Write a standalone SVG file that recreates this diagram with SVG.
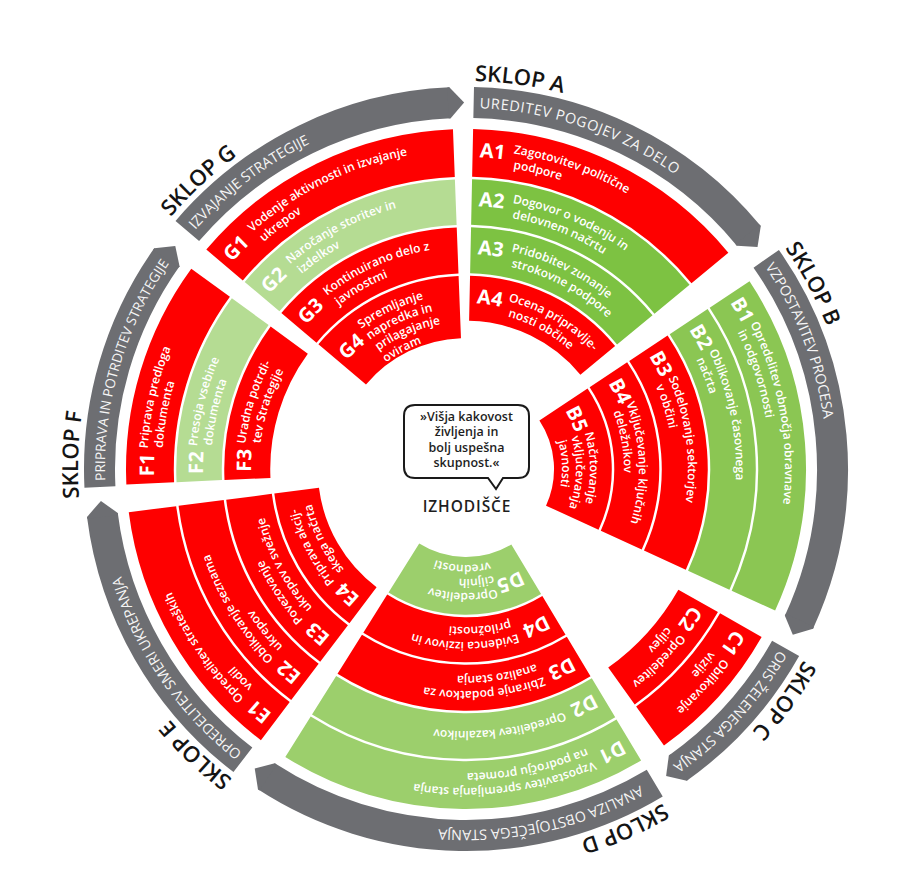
<svg xmlns="http://www.w3.org/2000/svg" width="917" height="884" viewBox="0 0 917 884">
<style>
.lb{font-family:'Open Sans','Liberation Sans',sans-serif;font-weight:700;font-size:20px;fill:#fff}
.tx{font-family:'Open Sans','Liberation Sans',sans-serif;font-weight:600;font-size:12px;fill:#fff}
.bt{font-family:'Open Sans','Liberation Sans',sans-serif;font-weight:400;font-size:14.3px;fill:#f5f5f5}
.sk{font-family:'Open Sans','Liberation Sans',sans-serif;font-weight:600;font-size:22px;fill:#141414}
.ct{font-family:'Open Sans','Liberation Sans',sans-serif;font-weight:600;font-size:12.5px;fill:#1e1e1e;text-anchor:middle}
.band{fill:none;stroke:#6d6e72;stroke-width:31}
.tip{fill:#6d6e72}
.r1{fill:none;stroke-width:47.8}
.r2{fill:none;stroke-width:45.5}
.r3{fill:none;stroke-width:46}
.r4{fill:none;stroke-width:45}
.r5{fill:none;stroke-width:57.75}
.rg{fill:none;stroke-width:62.3}
.red{stroke:#fe0000}
.ga{stroke:#7dc242}
.gb{stroke:#8bc653}
.gd{stroke:#9ccf6c}
.gl{stroke:#b5dc93}
</style>
<defs>
<path id="p319" d="M466,150a319,319 0 1 1 0,638a319,319 0 1 1 0,-638"/>
<path id="p304" d="M466,165a304,304 0 1 1 0,608a304,304 0 1 1 0,-608"/>
<path id="p312" d="M466,157a312,312 0 1 1 0,624a312,312 0 1 1 0,-624"/>
<path id="p270" d="M466,199a270,270 0 1 1 0,540a270,270 0 1 1 0,-540"/>
<path id="p255" d="M466,214a255,255 0 1 1 0,510a255,255 0 1 1 0,-510"/>
<path id="p263" d="M466,206a263,263 0 1 1 0,526a263,263 0 1 1 0,-526"/>
<path id="p222" d="M466,247a222,222 0 1 1 0,444a222,222 0 1 1 0,-444"/>
<path id="p207" d="M466,262a207,207 0 1 1 0,414a207,207 0 1 1 0,-414"/>
<path id="p215" d="M466,254a215,215 0 1 1 0,430a215,215 0 1 1 0,-430"/>
<path id="p173" d="M466,296a173,173 0 1 1 0,346a173,173 0 1 1 0,-346"/>
<path id="p158" d="M466,311a158,158 0 1 1 0,316a158,158 0 1 1 0,-316"/>
<path id="p166" d="M466,303a166,166 0 1 1 0,332a166,166 0 1 1 0,-332"/>
<path id="p124" d="M466,345a124,124 0 1 1 0,248a124,124 0 1 1 0,-248"/>
<path id="p110" d="M466,359a110,110 0 1 1 0,220a110,110 0 1 1 0,-220"/>
<path id="p96" d="M466,373a96,96 0 1 1 0,192a96,96 0 1 1 0,-192"/>
<path id="p115" d="M466,354a115,115 0 1 1 0,230a115,115 0 1 1 0,-230"/>
<path id="p175" d="M466,294a175,175 0 1 1 0,350a175,175 0 1 1 0,-350"/>
<path id="p161" d="M466,308a161,161 0 1 1 0,322a161,161 0 1 1 0,-322"/>
<path id="p147" d="M466,322a147,147 0 1 1 0,294a147,147 0 1 1 0,-294"/>
<path id="p133" d="M466,336a133,133 0 1 1 0,266a133,133 0 1 1 0,-266"/>
<path id="p157" d="M466,312a157,157 0 1 1 0,314a157,157 0 1 1 0,-314"/>
<path id="p262" d="M466,207a262,262 0 1 1 0,524a262,262 0 1 1 0,-524"/>
<path id="p258" d="M466,211a258,258 0 1 1 0,516a258,258 0 1 1 0,-516"/>
<path id="p361" d="M466,108a361,361 0 1 1 0,722a361,361 0 1 1 0,-722"/>
<path id="p388" d="M466,81a388,388 0 1 1 0,776a388,388 0 1 1 0,-776"/>
</defs>
<rect width="917" height="884" fill="#fff"/>

<g id="connectors">
 <g id="band-A">
  <circle cx="466" cy="469" r="366.5" pathLength="360" class="band" transform="rotate(-88.8 466 469)" stroke-dasharray="49.3 400"/>
  <polygon class="tip" points="464,118 466,118 480.1,102.8 466,87 464,87" transform="rotate(50.5 466 469)"/>
  <text class="bt" transform="rotate(1.2 466 469)" style="font-size:14.5px;letter-spacing:0.6px"><textPath href="#p361" startOffset="6">UREDITEV POGOJEV ZA DELO</textPath></text>
  <text class="sk" transform="rotate(1.3 466 469)"><textPath href="#p388">SKLOP A</textPath></text>
 </g>
 <g id="band-B">
  <circle cx="466" cy="469" r="366.5" pathLength="360" class="band" transform="rotate(-35 466 469)" stroke-dasharray="59.7 400"/>
  <polygon class="tip" points="464,118 466,118 480.1,102.8 466,87 464,87" transform="rotate(114.7 466 469)"/>
  <text class="bt" transform="rotate(55 466 469)"><textPath href="#p361" startOffset="6">VZPOSTAVITEV PROCESA</textPath></text>
  <text class="sk" transform="rotate(55.3 466 469)"><textPath href="#p388">SKLOP B</textPath></text>
 </g>
 <g id="band-C">
  <circle cx="466" cy="469" r="366.5" pathLength="360" class="band" transform="rotate(29.3 466 469)" stroke-dasharray="25.4 400"/>
  <polygon class="tip" points="464,118 466,118 480.1,102.8 466,87 464,87" transform="rotate(144.7 466 469)"/>
  <text class="bt" transform="rotate(119.3 466 469)"><textPath href="#p361" startOffset="5">ORIS ŽELENEGA STANJA</textPath></text>
  <text class="sk" transform="rotate(119.5 466 469)"><textPath href="#p388">SKLOP C</textPath></text>
 </g>
 <g id="band-D">
  <circle cx="466" cy="469" r="366.5" pathLength="360" class="band" transform="rotate(59 466 469)" stroke-dasharray="64 400"/>
  <polygon class="tip" points="464,118 466,118 480.1,102.8 466,87 464,87" transform="rotate(213 466 469)"/>
  <text class="bt" transform="rotate(149 466 469)"><textPath href="#p361" startOffset="14">ANALIZA OBSTOJEČEGA STANJA</textPath></text>
  <text class="sk" transform="rotate(149.5 466 469)"><textPath href="#p388">SKLOP D</textPath></text>
 </g>
 <g id="band-E">
  <circle cx="466" cy="469" r="366.5" pathLength="360" class="band" transform="rotate(127.5 466 469)" stroke-dasharray="45.3 400"/>
  <polygon class="tip" points="464,118 466,118 480.1,102.8 466,87 464,87" transform="rotate(262.8 466 469)"/>
  <text class="bt" transform="rotate(217.5 466 469)"><textPath href="#p361" startOffset="5">OPREDELITEV SMERI UKREPANJA</textPath></text>
  <text class="sk" transform="rotate(217 466 469)"><textPath href="#p388">SKLOP E</textPath></text>
 </g>
 <g id="band-F">
  <circle cx="466" cy="469" r="366.5" pathLength="360" class="band" transform="rotate(177.2 466 469)" stroke-dasharray="38.1 400"/>
  <polygon class="tip" points="464,118 466,118 480.1,102.8 466,87 464,87" transform="rotate(305.3 466 469)"/>
  <text class="bt" transform="rotate(267.2 466 469)" style="font-size:13.6px"><textPath href="#p361" startOffset="6">PRIPRAVA IN POTRDITEV STRATEGIJE</textPath></text>
  <text class="sk" transform="rotate(265.7 466 469)"><textPath href="#p388">SKLOP F</textPath></text>
 </g>
 <g id="band-G">
  <circle cx="466" cy="469" r="366.5" pathLength="360" class="band" transform="rotate(220.5 466 469)" stroke-dasharray="47 400"/>
  <polygon class="tip" points="464,118 466,118 480.1,102.8 466,87 464,87" transform="rotate(357.5 466 469)"/>
  <text class="bt" transform="rotate(310.5 466 469)"><textPath href="#p361" startOffset="6">IZVAJANJE STRATEGIJE</textPath></text>
  <text class="sk" transform="rotate(310.5 466 469)"><textPath href="#p388">SKLOP G</textPath></text>
 </g>
</g>

<g id="sector-A" transform="rotate(1.2 466 469)">
 <g id="A1">
  <circle cx="466" cy="469" r="316.1" pathLength="360" transform="rotate(-90 466 469)" class="r1 red" stroke-dasharray="49.3 400"/>
  <text class="lb"><textPath href="#p312" startOffset="7">A1</textPath></text>
  <text class="tx"><textPath href="#p319" startOffset="41">Zagotovitev politične</textPath></text>
  <text class="tx"><textPath href="#p304" startOffset="41">podpore</textPath></text>
 </g>
 <g id="A2">
  <circle cx="466" cy="469" r="267" pathLength="360" transform="rotate(-90 466 469)" class="r2 ga" stroke-dasharray="49.3 400"/>
  <text class="lb"><textPath href="#p263" startOffset="7">A2</textPath></text>
  <text class="tx"><textPath href="#p270" startOffset="41">Dogovor o vodenju in</textPath></text>
  <text class="tx"><textPath href="#p255" startOffset="41">delovnem načrtu</textPath></text>
 </g>
 <g id="A3">
  <circle cx="466" cy="469" r="218.75" pathLength="360" transform="rotate(-90 466 469)" class="r3 ga" stroke-dasharray="49.3 400"/>
  <text class="lb"><textPath href="#p215" startOffset="7">A3</textPath></text>
  <text class="tx"><textPath href="#p222" startOffset="41">Pridobitev zunanje</textPath></text>
  <text class="tx"><textPath href="#p207" startOffset="41">strokovne podpore</textPath></text>
 </g>
 <g id="A4">
  <circle cx="466" cy="469" r="170.75" pathLength="360" transform="rotate(-90 466 469)" class="r4 red" stroke-dasharray="49.3 400"/>
  <text class="lb"><textPath href="#p166" startOffset="7">A4</textPath></text>
  <text class="tx"><textPath href="#p173" startOffset="39">Ocena pripravlje-</textPath></text>
  <text class="tx"><textPath href="#p158" startOffset="39">nosti občine</textPath></text>
 </g>
</g>

<g id="sector-B" transform="rotate(56.5 466 469)">
 <g id="B1">
  <circle cx="466" cy="469" r="316.1" pathLength="360" transform="rotate(-90 466 469)" class="r1 gb" stroke-dasharray="58.1 400"/>
  <text class="lb"><textPath href="#p312" startOffset="7">B1</textPath></text>
  <text class="tx"><textPath href="#p319" startOffset="36">Opredelitev območja obravnave</textPath></text>
  <text class="tx"><textPath href="#p304" startOffset="36">in odgovornosti</textPath></text>
 </g>
 <g id="B2">
  <circle cx="466" cy="469" r="267" pathLength="360" transform="rotate(-90 466 469)" class="r2 gb" stroke-dasharray="58.1 400"/>
  <text class="lb"><textPath href="#p263" startOffset="7">B2</textPath></text>
  <text class="tx"><textPath href="#p270" startOffset="36">Oblikovanje časovnega</textPath></text>
  <text class="tx"><textPath href="#p255" startOffset="36">načrta</textPath></text>
 </g>
 <g id="B3">
  <circle cx="466" cy="469" r="218.75" pathLength="360" transform="rotate(-90 466 469)" class="r3 red" stroke-dasharray="58.1 400"/>
  <text class="lb"><textPath href="#p215" startOffset="7">B3</textPath></text>
  <text class="tx"><textPath href="#p222" startOffset="36">Sodelovanje sektorjev</textPath></text>
  <text class="tx"><textPath href="#p207" startOffset="36">v občini</textPath></text>
 </g>
 <g id="B4">
  <circle cx="466" cy="469" r="170.75" pathLength="360" transform="rotate(-90 466 469)" class="r4 red" stroke-dasharray="58.1 400"/>
  <text class="lb"><textPath href="#p166" startOffset="7">B4</textPath></text>
  <text class="tx"><textPath href="#p173" startOffset="34">Vključevanje ključnih</textPath></text>
  <text class="tx"><textPath href="#p158" startOffset="34">deležnikov</textPath></text>
 </g>
 <g id="B5">
  <circle cx="466" cy="469" r="116.9" pathLength="360" transform="rotate(-90 466 469)" class="r5 red" stroke-dasharray="58.1 400"/>
  <text class="lb"><textPath href="#p115" startOffset="6">B5</textPath></text>
  <text class="tx"><textPath href="#p124" startOffset="36">Načrtovanje</textPath></text>
  <text class="tx"><textPath href="#p110" startOffset="32">vključevanja</textPath></text>
  <text class="tx"><textPath href="#p96" startOffset="28">javnosti</textPath></text>
 </g>
</g>

<g id="sector-C" transform="rotate(119.6 466 469)">
 <g id="C1">
  <circle cx="466" cy="469" r="316.1" pathLength="360" transform="rotate(-90 466 469)" class="r1 red" stroke-dasharray="24.8 400"/>
  <text class="lb"><textPath href="#p312" startOffset="7">C1</textPath></text>
  <text class="tx"><textPath href="#p319" startOffset="38">Oblikovanje</textPath></text>
  <text class="tx"><textPath href="#p304" startOffset="38">vizije</textPath></text>
 </g>
 <g id="C2">
  <circle cx="466" cy="469" r="267" pathLength="360" transform="rotate(-90 466 469)" class="r2 red" stroke-dasharray="24.8 400"/>
  <text class="lb"><textPath href="#p263" startOffset="7">C2</textPath></text>
  <text class="tx"><textPath href="#p270" startOffset="38">Opredelitev</textPath></text>
  <text class="tx"><textPath href="#p255" startOffset="38">ciljev</textPath></text>
 </g>
</g>

<g id="sector-D" transform="rotate(149 466 469)">
 <g id="D1">
  <circle cx="466" cy="469" r="316.1" pathLength="360" transform="rotate(-90 466 469)" class="r1 gd" stroke-dasharray="63.1 400"/>
  <text class="lb"><textPath href="#p312" startOffset="7">D1</textPath></text>
  <text class="tx"><textPath href="#p319" startOffset="41">Vzpostavitev spremljanja stanja</textPath></text>
  <text class="tx"><textPath href="#p304" startOffset="41">na področju prometa</textPath></text>
 </g>
 <g id="D2">
  <circle cx="466" cy="469" r="267" pathLength="360" transform="rotate(-90 466 469)" class="r2 gd" stroke-dasharray="63.1 400"/>
  <text class="lb"><textPath href="#p258" startOffset="7">D2</textPath></text>
  <text class="tx"><textPath href="#p262" startOffset="41">Opredelitev kazalnikov</textPath></text>
 </g>
 <g id="D3">
  <circle cx="466" cy="469" r="218.75" pathLength="360" transform="rotate(-90 466 469)" class="r3 red" stroke-dasharray="63.1 400"/>
  <text class="lb"><textPath href="#p215" startOffset="7">D3</textPath></text>
  <text class="tx"><textPath href="#p222" startOffset="41">Zbiranje podatkov za</textPath></text>
  <text class="tx"><textPath href="#p207" startOffset="41">analizo stanja</textPath></text>
 </g>
 <g id="D4">
  <circle cx="466" cy="469" r="170.75" pathLength="360" transform="rotate(-90 466 469)" class="r4 red" stroke-dasharray="63.1 400"/>
  <text class="lb"><textPath href="#p166" startOffset="7">D4</textPath></text>
  <text class="tx"><textPath href="#p173" startOffset="41">Evidenca izzivov in</textPath></text>
  <text class="tx"><textPath href="#p158" startOffset="41">priložnosti</textPath></text>
 </g>
 <g id="D5">
  <circle cx="466" cy="469" r="116.9" pathLength="360" transform="rotate(-90 466 469)" class="r5 gd" stroke-dasharray="63.1 400"/>
  <text class="lb"><textPath href="#p115" startOffset="6">D5</textPath></text>
  <text class="tx"><textPath href="#p124" startOffset="36">Opredelitev</textPath></text>
  <text class="tx"><textPath href="#p110" startOffset="32">ciljnih</textPath></text>
  <text class="tx"><textPath href="#p96" startOffset="28">vrednosti</textPath></text>
 </g>
</g>

<g id="sector-E" transform="rotate(217.1 466 469)">
 <g id="E1">
  <circle cx="466" cy="469" r="316.1" pathLength="360" transform="rotate(-90 466 469)" class="r1 red" stroke-dasharray="45.6 400"/>
  <text class="lb"><textPath href="#p312" startOffset="7">E1</textPath></text>
  <text class="tx"><textPath href="#p319" startOffset="39">Opredelitev strateških</textPath></text>
  <text class="tx"><textPath href="#p304" startOffset="39">vodil</textPath></text>
 </g>
 <g id="E2">
  <circle cx="466" cy="469" r="267" pathLength="360" transform="rotate(-90 466 469)" class="r2 red" stroke-dasharray="45.6 400"/>
  <text class="lb"><textPath href="#p263" startOffset="7">E2</textPath></text>
  <text class="tx"><textPath href="#p270" startOffset="39">Oblikovanje seznama</textPath></text>
  <text class="tx"><textPath href="#p255" startOffset="39">ukrepov</textPath></text>
 </g>
 <g id="E3">
  <circle cx="466" cy="469" r="218.75" pathLength="360" transform="rotate(-90 466 469)" class="r3 red" stroke-dasharray="45.6 400"/>
  <text class="lb"><textPath href="#p215" startOffset="7">E3</textPath></text>
  <text class="tx"><textPath href="#p222" startOffset="39">Povezovanje</textPath></text>
  <text class="tx"><textPath href="#p207" startOffset="39">ukrepov v svežnje</textPath></text>
 </g>
 <g id="E4">
  <circle cx="466" cy="469" r="170.75" pathLength="360" transform="rotate(-90 466 469)" class="r4 red" stroke-dasharray="45.6 400"/>
  <text class="lb"><textPath href="#p166" startOffset="7">E4</textPath></text>
  <text class="tx"><textPath href="#p173" startOffset="37">Priprava akcij-</textPath></text>
  <text class="tx"><textPath href="#p158" startOffset="37">skega načrta</textPath></text>
 </g>
</g>

<g id="sector-F" transform="rotate(267.4 466 469)">
 <g id="F1">
  <circle cx="466" cy="469" r="316.1" pathLength="360" transform="rotate(-90 466 469)" class="r1 red" stroke-dasharray="38.7 400"/>
  <text class="lb"><textPath href="#p312" startOffset="7">F1</textPath></text>
  <text class="tx"><textPath href="#p319" startOffset="35">Priprava predloga</textPath></text>
  <text class="tx"><textPath href="#p304" startOffset="35">dokumenta</textPath></text>
 </g>
 <g id="F2">
  <circle cx="466" cy="469" r="267" pathLength="360" transform="rotate(-90 466 469)" class="r2 gl" stroke-dasharray="38.7 400"/>
  <text class="lb"><textPath href="#p263" startOffset="7">F2</textPath></text>
  <text class="tx"><textPath href="#p270" startOffset="35">Presoja vsebine</textPath></text>
  <text class="tx"><textPath href="#p255" startOffset="35">dokumenta</textPath></text>
 </g>
 <g id="F3">
  <circle cx="466" cy="469" r="218.75" pathLength="360" transform="rotate(-90 466 469)" class="r3 red" stroke-dasharray="38.7 400"/>
  <text class="lb"><textPath href="#p215" startOffset="7">F3</textPath></text>
  <text class="tx"><textPath href="#p222" startOffset="35">Uradna potrdi-</textPath></text>
  <text class="tx"><textPath href="#p207" startOffset="35">tev Strategije</textPath></text>
 </g>
</g>

<g id="sector-G" transform="rotate(310.2 466 469)">
 <g id="G1">
  <circle cx="466" cy="469" r="316.1" pathLength="360" transform="rotate(-90 466 469)" class="r1 red" stroke-dasharray="47.6 400"/>
  <text class="lb"><textPath href="#p312" startOffset="7">G1</textPath></text>
  <text class="tx"><textPath href="#p319" startOffset="43">Vodenje aktivnosti in izvajanje</textPath></text>
  <text class="tx"><textPath href="#p304" startOffset="43">ukrepov</textPath></text>
 </g>
 <g id="G2">
  <circle cx="466" cy="469" r="267" pathLength="360" transform="rotate(-90 466 469)" class="r2 gl" stroke-dasharray="47.6 400"/>
  <text class="lb"><textPath href="#p263" startOffset="7">G2</textPath></text>
  <text class="tx"><textPath href="#p270" startOffset="43">Naročanje storitev in</textPath></text>
  <text class="tx"><textPath href="#p255" startOffset="43">izdelkov</textPath></text>
 </g>
 <g id="G3">
  <circle cx="466" cy="469" r="218.75" pathLength="360" transform="rotate(-90 466 469)" class="r3 red" stroke-dasharray="47.6 400"/>
  <text class="lb"><textPath href="#p215" startOffset="7">G3</textPath></text>
  <text class="tx"><textPath href="#p222" startOffset="43">Kontinuirano delo z</textPath></text>
  <text class="tx"><textPath href="#p207" startOffset="43">javnostmi</textPath></text>
 </g>
 <g id="G4">
  <circle cx="466" cy="469" r="162.1" pathLength="360" transform="rotate(-90 466 469)" class="rg red" stroke-dasharray="47.6 400"/>
  <text class="lb"><textPath href="#p161" startOffset="6">G4</textPath></text>
  <text class="tx"><textPath href="#p175" startOffset="40">Spremljanje</textPath></text>
  <text class="tx"><textPath href="#p161" startOffset="37">napredka in</textPath></text>
  <text class="tx"><textPath href="#p147" startOffset="34">prilagajanje</textPath></text>
  <text class="tx"><textPath href="#p133" startOffset="30">oviram</textPath></text>
 </g>
</g>

<g id="center">
 <path d="M415,405H518Q529,405 529,416V467Q529,478 518,478H503L496,489L488,478H415Q404,478 404,467V416Q404,405 415,405Z" fill="#fff" stroke="#1a1a1a" stroke-width="2"/>
 <text class="ct" x="466.5" y="421">»Višja kakovost<tspan x="466.5" dy="15.3">življenja in</tspan><tspan x="466.5" dy="15.3">bolj uspešna</tspan><tspan x="466.5" dy="15.3">skupnost.«</tspan></text>
 <text class="ct" x="467" y="512" style="font-size:15.5px;letter-spacing:0.9px">IZHODIŠČE</text>
</g>
</svg>
